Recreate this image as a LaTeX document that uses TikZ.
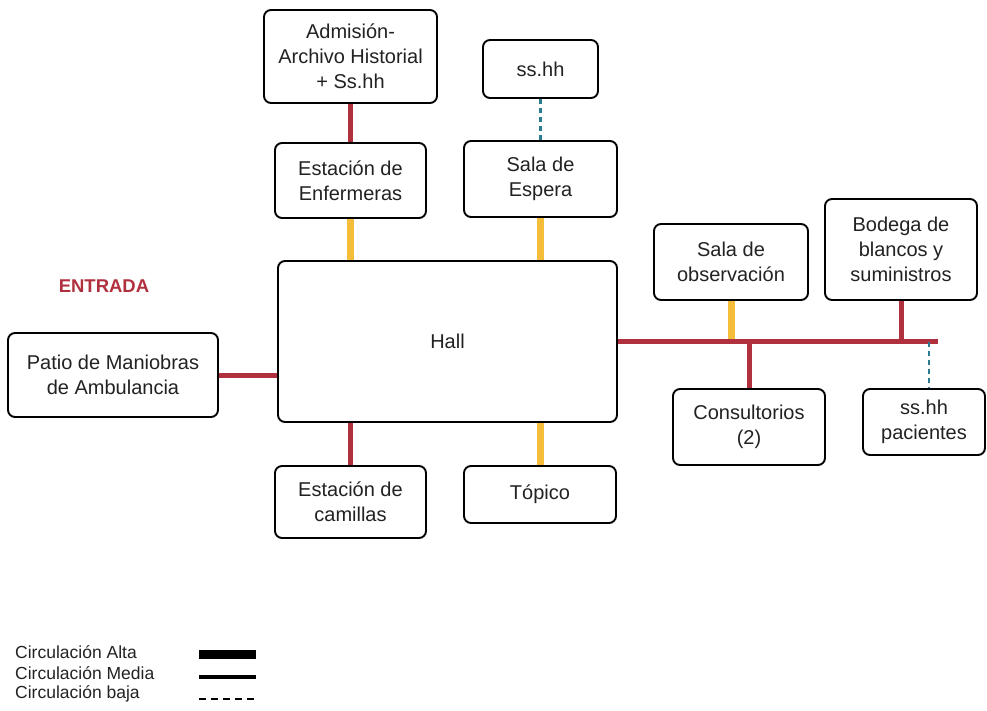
\documentclass[tikz,border=0pt]{standalone}
\usepackage{fontspec}
\setmainfont{Liberation Sans}
\definecolor{cred}{HTML}{B0303E}
\definecolor{cyel}{HTML}{F4BE3A}
\definecolor{cteal}{HTML}{2B7C93}
\definecolor{ctxt}{HTML}{222222}
\begin{document}
\begin{tikzpicture}[x=1pt,y=-1pt,
  box/.style={draw=black, line width=1.9pt, rounded corners=7pt, fill=white,
    align=center, text=ctxt, font=\fontsize{20}{25}\selectfont, inner sep=0pt},
  hi/.style={cred, line width=5pt},
  mid/.style={cyel, line width=7pt},
  low/.style={cteal, line width=2.6pt, dash pattern=on 5pt off 4pt},
  lgtext/.style={anchor=west, font=\fontsize{17.5}{20}\selectfont, text=ctxt, inner sep=0pt}]
\useasboundingbox (0,0) rectangle (987,711);

% nodes
\node[box, minimum width=173pt, minimum height=93pt] (adm) at (350.5,56.5) {Admisión-\\Archivo Historial\\+ Ss.hh};
\node[box, minimum width=115pt, minimum height=58pt] (ssh1) at (540.5,69) {ss.hh};
\node[box, minimum width=151pt, minimum height=75pt] (enf) at (350.5,180.5) {Estación de\\Enfermeras};
\node[box, minimum width=153pt, minimum height=76pt] (esp) at (540.5,179) {Sala de\\Espera};
\node[box, minimum width=339pt, minimum height=161pt] (hall) at (447.5,341.5) {Hall};
\node[box, minimum width=210pt, minimum height=84pt] (patio) at (113,375) {Patio de Maniobras\\de Ambulancia};
\node[box, minimum width=151pt, minimum height=72pt] (cam) at (350.5,502) {Estación de\\camillas};
\node[box, minimum width=152pt, minimum height=57pt] (top) at (540,494.5) {Tópico};
\node[box, minimum width=154pt, minimum height=76pt] (obs) at (731,262) {Sala de\\observación};
\node[box, minimum width=152pt, minimum height=101pt] (bod) at (901,249.5) {Bodega de\\blancos y\\suministros};
\node[box, minimum width=152pt, minimum height=76pt] (con) at (749,427) {Consultorios\\(2)};
\node[box, minimum width=122pt, minimum height=66pt] (ssp) at (924,422) {ss.hh\\pacientes};

\node[text=cred, font=\bfseries\fontsize{18.5}{20}\selectfont, inner sep=0pt] (entrada) at (104,286) {ENTRADA};

% connectors
\coordinate (lineend) at (938,341.5);
\coordinate (sspdrop) at (929,341.5);
\draw[hi] (adm.south) -- (enf.north);
\draw[low] (ssh1.south) -- (esp.north);
\draw[mid] (enf.south) -- (enf.south |- hall.north);
\draw[mid] (esp.south) -- (esp.south |- hall.north);
\draw[hi] (patio.east) -- (patio.east -| hall.west);
\draw[hi] (cam.north |- hall.south) -- (cam.north);
\draw[mid] (top.north |- hall.south) -- (top.north);
\draw[mid] (obs.south) -- (obs.south |- lineend);
\draw[hi] (hall.east) -- (lineend);
\draw[hi] (bod.south) -- (bod.south |- lineend);
\draw[hi] (con.north |- lineend) -- (con.north);
\draw[low] (sspdrop) -- (sspdrop |- ssp.north);

% legend
\node[lgtext] (lg1) at (15,652) {Circulación Alta};
\node[lgtext] (lg2) at (15,673) {Circulación Media};
\node[lgtext] (lg3) at (15,694) {Circulación baja};
\coordinate (l1a) at (199,654); \coordinate (l1b) at (256,654);
\coordinate (l2a) at (199,677); \coordinate (l2b) at (256,677);
\coordinate (l3a) at (199,699); \coordinate (l3b) at (256,699);
\draw[black, line width=9pt] (l1a) -- (l1b);
\draw[black, line width=4.5pt] (l2a) -- (l2b);
\draw[black, line width=2pt, dash pattern=on 7pt off 5pt] (l3a) -- (l3b);
\end{tikzpicture}
\end{document}
